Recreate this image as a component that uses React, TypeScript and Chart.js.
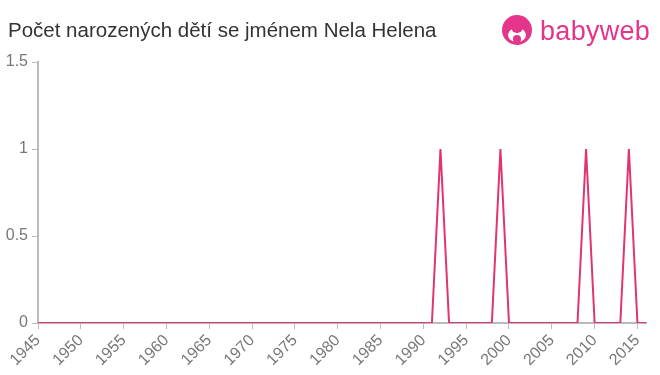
import React, { useEffect, useRef } from "react";
import { Chart, registerables } from "chart.js";

Chart.register(...registerables);

const title = "Počet narozených dětí se jménem Nela Helena";

const years: number[] = [
  1945, 1946, 1947, 1948, 1949, 1950, 1951, 1952, 1953, 1954,
  1955, 1956, 1957, 1958, 1959, 1960, 1961, 1962, 1963, 1964,
  1965, 1966, 1967, 1968, 1969, 1970, 1971, 1972, 1973, 1974,
  1975, 1976, 1977, 1978, 1979, 1980, 1981, 1982, 1983, 1984,
  1985, 1986, 1987, 1988, 1989, 1990, 1991, 1992, 1993, 1994,
  1995, 1996, 1997, 1998, 1999, 2000, 2001, 2002, 2003, 2004,
  2005, 2006, 2007, 2008, 2009, 2010, 2011, 2012, 2013, 2014,
  2015, 2016,
];

const counts: number[] = [
  0, 0, 0, 0, 0, 0, 0, 0, 0, 0,
  0, 0, 0, 0, 0, 0, 0, 0, 0, 0,
  0, 0, 0, 0, 0, 0, 0, 0, 0, 0,
  0, 0, 0, 0, 0, 0, 0, 0, 0, 0,
  0, 0, 0, 0, 0, 0, 0, 1, 0, 0,
  0, 0, 0, 0, 1, 0, 0, 0, 0, 0,
  0, 0, 0, 0, 1, 0, 0, 0, 0, 1,
  0, 0,
];

const xTicks: number[] = [
  1945, 1950, 1955, 1960, 1965, 1970, 1975, 1980, 1985, 1990,
  1995, 2000, 2005, 2010, 2015,
];
const yTicks: number[] = [0, 0.5, 1, 1.5];

const xMin = 1945;
const xMax = 2016;
const yMax = 1.5;

const lineColor = "#e0356e";
const axisColor = "#bbbbbb";
const tickColor = "#777777";
const font = "Liberation Sans, Arial, sans-serif";

export default function App() {
  const ref = useRef<HTMLCanvasElement | null>(null);

  useEffect(() => {
    document.body.style.margin = "0";
    const canvas = ref.current;
    if (!canvas) return;
    const chart = new Chart(canvas, {
      type: "line",
      data: {
        datasets: [
          {
            data: years.map((y, i) => ({ x: y, y: counts[i] })),
            borderColor: lineColor,
            backgroundColor: lineColor,
            borderWidth: 2,
            pointRadius: 0,
            tension: 0,
            fill: false,
          },
        ],
      },
      options: {
        animation: false,
        responsive: false,
        maintainAspectRatio: false,
        layout: { padding: { top: 62, right: 14, left: 0, bottom: 0 } },
        plugins: {
          legend: { display: false },
          tooltip: { enabled: false },
          title: { display: false },
        },
        scales: {
          x: {
            type: "linear",
            min: xMin,
            max: xMax,
            afterBuildTicks: (s: any) => {
              s.ticks = xTicks.map((v) => ({ value: v }));
            },
            ticks: {
              color: tickColor,
              font: { family: font, size: 16 },
              maxRotation: 45,
              minRotation: 45,
              autoSkip: false,
              padding: 2,
              callback: (v: any) => String(v),
            },
            grid: {
              display: true,
              drawOnChartArea: false,
              drawTicks: true,
              tickLength: 6,
              color: axisColor,
            },
            border: { display: true, color: axisColor, width: 2 },
            afterFit: (s: any) => {
              s.height = 52;
            },
          },
          y: {
            min: 0,
            max: yMax,
            afterBuildTicks: (s: any) => {
              s.ticks = yTicks.map((v) => ({ value: v }));
            },
            ticks: {
              color: tickColor,
              font: { family: font, size: 16 },
              padding: 4,
              callback: (v: any) => String(v),
            },
            grid: {
              display: true,
              drawOnChartArea: false,
              drawTicks: true,
              tickLength: 6,
              color: axisColor,
            },
            border: { display: true, color: axisColor, width: 2 },
            afterFit: (s: any) => {
              s.width = 38;
            },
          },
        },
      },
    });
    return () => chart.destroy();
  }, []);

  return (
    <div style={{ position: "relative", width: 660, height: 375, background: "#fff" }}>
      <canvas ref={ref} width={660} height={375} style={{ position: "absolute", left: 0, top: 0 }} />
      <div
        style={{
          position: "absolute",
          left: 8,
          top: 18,
          fontFamily: font,
          fontSize: 20.5,
          color: "#333",
          whiteSpace: "nowrap",
          lineHeight: "24px",
        }}
      >
        {title}
      </div>
      <div style={{ position: "absolute", left: 500, top: 14, display: "flex", alignItems: "center" }}>
        <svg width="34" height="34" viewBox="0 0 34 34">
          <circle cx="17" cy="16" r="15" fill="#e4358b" />
          <ellipse cx="17" cy="21" rx="9" ry="7" fill="#fff" />
          <circle cx="17" cy="13" r="6" fill="#e4358b" />
          <circle cx="17" cy="25" r="4" fill="#e4358b" />
        </svg>
        <span
          style={{
            marginLeft: 6,
            fontFamily: font,
            fontSize: 27,
            color: "#e4358b",
            lineHeight: "30px",
            letterSpacing: 0.3,
          }}
        >
          babyweb
        </span>
      </div>
    </div>
  );
}
